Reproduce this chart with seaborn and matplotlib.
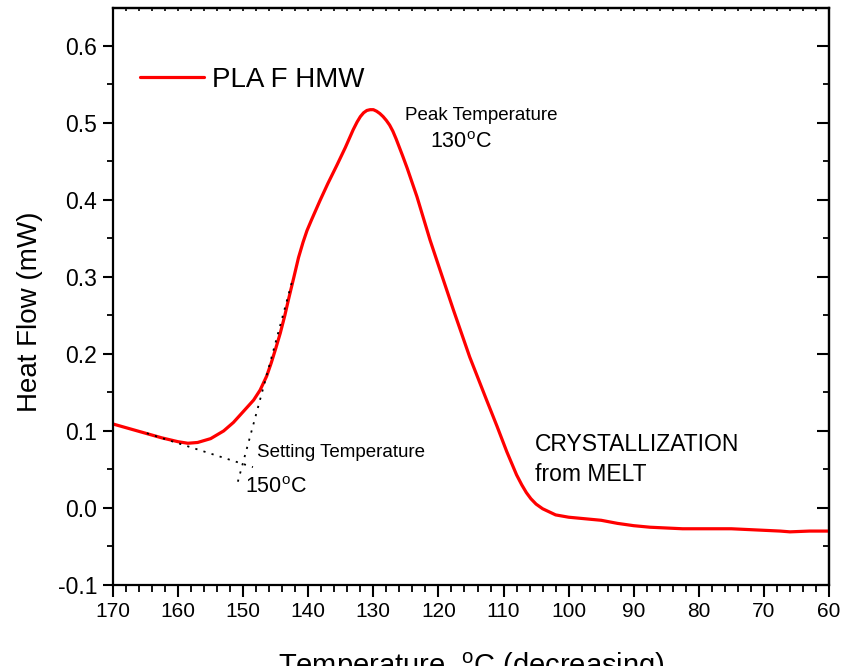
import matplotlib
matplotlib.use("Agg")
import matplotlib.pyplot as plt
import seaborn as sns
import pandas as pd
from matplotlib.ticker import MultipleLocator

# ---- data ----
temperature = [170, 167.5, 165, 162.5, 160, 158.5, 157, 155, 153, 151.5, 150, 148.4,
               147.4, 146.4, 145.7, 145, 144.3, 143.6, 143, 142.2, 141.5, 140.8, 140.2,
               139.5, 138.2, 137, 135.6, 134.3, 133.1, 132.5, 132, 131.5, 131, 130.5,
               130, 129.5, 129, 128.5, 128, 127.5, 127, 126.5, 126, 125.5, 124.8,
               123.3, 121.3, 120, 117.7, 115.2, 112.6, 111, 109.5, 108.8, 108, 107.2,
               106.5, 105.8, 105, 104, 103, 102, 100, 97.5, 95, 92.5, 90, 87.5, 85,
               82.5, 80, 77.5, 75, 72.5, 70, 67.5, 66, 63, 60]
heat_flow = [0.109, 0.103, 0.097, 0.091, 0.086, 0.084, 0.085, 0.090, 0.100, 0.111,
             0.125, 0.140, 0.153, 0.171, 0.188, 0.207, 0.227, 0.250, 0.272, 0.300,
             0.325, 0.345, 0.360, 0.374, 0.399, 0.421, 0.445, 0.468, 0.491, 0.501,
             0.508, 0.513, 0.516, 0.517, 0.517, 0.515, 0.512, 0.508, 0.503, 0.497,
             0.489, 0.479, 0.468, 0.457, 0.441, 0.404, 0.348, 0.315, 0.257, 0.196,
             0.140, 0.106, 0.073, 0.059, 0.043, 0.030, 0.020, 0.012, 0.005, -0.001,
             -0.005, -0.009, -0.012, -0.014, -0.016, -0.020, -0.023, -0.025, -0.026,
             -0.027, -0.027, -0.027, -0.027, -0.028, -0.029, -0.030, -0.031, -0.030,
             -0.030]
series_label = "PLA F HMW"

# tangent construction lines (setting temperature)
baseline_tangent_x = [164.8, 148.5]
baseline_tangent_y = [0.097, 0.053]
rise_tangent_x = [142.55, 150.95]
rise_tangent_y = [0.292, 0.030]

x_ticks = [170, 160, 150, 140, 130, 120, 110, 100, 90, 80, 70, 60]
y_ticks = [-0.1, 0.0, 0.1, 0.2, 0.3, 0.4, 0.5, 0.6]

sns.set_style("ticks")
plt.rcParams['font.family'] = ['Liberation Sans', 'DejaVu Sans']
plt.rcParams['mathtext.fontset'] = 'custom'
plt.rcParams['mathtext.rm'] = 'Liberation Sans'
plt.rcParams['mathtext.it'] = 'Liberation Sans:italic'
plt.rcParams['mathtext.bf'] = 'Liberation Sans:bold'
plt.rcParams['text.color'] = 'black'
plt.rcParams['axes.labelcolor'] = 'black'
plt.rcParams['xtick.color'] = 'black'
plt.rcParams['ytick.color'] = 'black'
plt.rcParams['lines.solid_joinstyle'] = 'round'
plt.rcParams['lines.solid_capstyle'] = 'round'

fig = plt.figure(figsize=(8.44, 6.66), dpi=100)
ax = fig.add_axes([113 / 844, 81 / 666, 716 / 844, 577 / 666])

df = pd.DataFrame({"T": temperature, "HF": heat_flow})
sns.lineplot(data=df, x="T", y="HF", ax=ax, color="#ff0000", linewidth=2.3,
             label=series_label, sort=False)

ax.plot(baseline_tangent_x, baseline_tangent_y, color="black", linestyle=(0, (1.2, 3.5)), linewidth=1.3)
ax.plot(rise_tangent_x, rise_tangent_y, color="black", linestyle=(0, (1.2, 3.5)), linewidth=1.3)

ax.set_xlim(170, 60)
ax.set_ylim(-0.1, 0.649)
ax.set_xticks(x_ticks)
ax.set_xticklabels([str(v) for v in x_ticks])
ax.set_yticks(y_ticks)
ax.set_yticklabels([f"{v:.1f}" for v in y_ticks])
ax.xaxis.set_minor_locator(MultipleLocator(2))
ax.yaxis.set_minor_locator(MultipleLocator(0.05))

for s in ax.spines.values():
    s.set_linewidth(1.6)
    s.set_color("black")
    s.set_visible(True)

ax.tick_params(axis='x', which='major', direction='out', length=8.5, width=1.5,
               labelsize=15, pad=4, top=False)
ax.tick_params(axis='x', which='minor', direction='out', length=5, width=1.3, top=False)
ax.tick_params(axis='y', which='major', direction='out', length=7, width=1.5,
               labelsize=16.5, pad=4.5, right=False)
ax.tick_params(axis='y', which='minor', direction='out', length=4, width=1.3, right=False)

# inward ticks on right spine
axr = ax.secondary_yaxis('right')
axr.set_yticks(y_ticks)
axr.yaxis.set_minor_locator(MultipleLocator(0.05))
axr.tick_params(axis='y', which='major', direction='in', length=8.5, width=1.5, labelright=False)
axr.tick_params(axis='y', which='minor', direction='in', length=4.5, width=1.3, labelright=False)
axr.spines['right'].set_linewidth(1.6)
# tiny ticks on top spine
axt = ax.secondary_xaxis('top')
axt.set_xticks(x_ticks)
axt.xaxis.set_minor_locator(MultipleLocator(2))
axt.tick_params(axis='x', which='both', direction='in', length=1.8, width=1.2, labeltop=False)
axt.spines['top'].set_linewidth(1.6)

ax.set_xlabel("Temperature, $\\mathregular{^o}$C (decreasing)", fontsize=21)
ax.xaxis.set_label_coords(0.5, -0.156)
ax.xaxis.label.set_va('baseline')
ax.set_ylabel("Heat Flow (mW)", fontsize=20)
ax.yaxis.set_label_coords(-0.116, 0.473)
ax.yaxis.label.set_va('center')

leg = ax.legend(loc='center left', bbox_to_anchor=(0.0377, 0.875), frameon=False,
                fontsize=20, handlelength=2.3, handletextpad=0.3, borderpad=0,
                borderaxespad=0)

ax.text(125.14, 0.510, "Peak Temperature", fontsize=13.5, va='center', ha='left')
ax.text(121.3, 0.474, "130$\\mathregular{^o}$C", fontsize=15.5, va='center', ha='left')
ax.text(147.9, 0.0714, "Setting Temperature", fontsize=13.5, va='center', ha='left')
ax.text(149.7, 0.026, "150$\\mathregular{^o}$C", fontsize=15.5, va='center', ha='left')
ax.text(105.17, 0.082, "CRYSTALLIZATION", fontsize=16.5, va='center', ha='left')
ax.text(105.17, 0.044, "from MELT", fontsize=16.5, va='center', ha='left')

fig.savefig("out.png", dpi=100)
